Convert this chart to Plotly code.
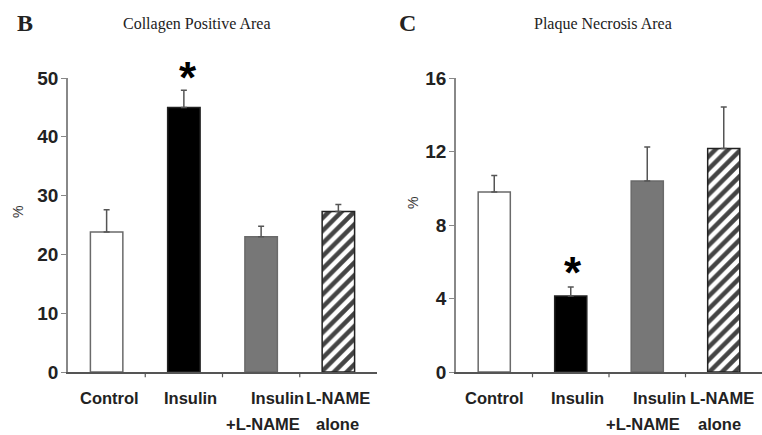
import plotly.graph_objects as go

categories = ["Control", "Insulin", "Insulin +L-NAME", "L-NAME alone"]
label_line1 = ["Control", "Insulin", "Insulin", "L-NAME"]
label_line2 = ["", "", "+L-NAME", "alone"]
collagen_mean = [23.8, 45.0, 23.0, 27.3]
collagen_err = [3.8, 2.9, 1.8, 1.2]
necrosis_mean = [9.8, 4.13, 10.4, 12.17]
necrosis_err = [0.9, 0.5, 1.85, 2.25]
collagen_ticks = [0, 10, 20, 30, 40, 50]
necrosis_ticks = [0, 4, 8, 12, 16]

fills = ["white", "black", "#777777", "white"]
lines = ["#6a6a6a", "#222222", "#6a6a6a", "#222222"]
patterns = ["", "", "", "/"]

fig = go.Figure()

def add_bars(means, errs, xa, ya):
    fig.add_trace(go.Bar(
        x=categories, y=means, xaxis=xa, yaxis=ya, width=0.42,
        marker=dict(color=fills, line=dict(color=lines, width=1.5),
                    pattern=dict(shape=patterns, fgcolor="black", bgcolor="white",
                                 fgopacity=1, size=9, solidity=0.5)),
        error_y=dict(type="data", symmetric=False, array=errs,
                     arrayminus=[0] * len(errs), color="#555555",
                     thickness=1.5, width=3),
        showlegend=False, hoverinfo="skip"))

add_bars(collagen_mean, collagen_err, "x", "y")
add_bars(necrosis_mean, necrosis_err, "x2", "y2")

ydom = [(435 - 372) / 435, (435 - 78) / 435]
sans = "Liberation Sans, Arial, sans-serif"
tickfont = dict(family=sans, size=19, color="#222222", weight="bold")

common_x = dict(type="category", showline=True, linecolor="#555555", linewidth=1.5,
                ticks="", showticklabels=False, showgrid=False, zeroline=False,
                range=[-0.5, 3.5], fixedrange=True, automargin=False)
common_y = dict(showline=True, linecolor="#888888", linewidth=1.5, ticks="outside",
                ticklen=5, tickcolor="#888888", tickfont=tickfont, showgrid=False,
                zeroline=False, domain=ydom, automargin=False, ticklabelstandoff=-1)

fig.update_layout(
    width=762, height=435, margin=dict(l=0, r=0, t=0, b=0, autoexpand=False),
    paper_bgcolor="white", plot_bgcolor="white",
    xaxis=dict(common_x, domain=[68 / 762, 377 / 762], anchor="y"),
    yaxis=dict(common_y, range=[0, 50], tickvals=collagen_ticks, anchor="x"),
    xaxis2=dict(common_x, domain=[456 / 762, 1.0], anchor="y2"),
    yaxis2=dict(common_y, range=[0, 16], tickvals=necrosis_ticks, anchor="x2"),
)

# category separator ticks and category labels
shifts1 = [[3, 7, 16, 0], [0, 7, 12, -2]]
shifts2 = [[0, 0, 2, -1], [0, 0, -4, -4]]
catfont = dict(family=sans, size=16.5, color="#222222")
for k, (xa, ya) in enumerate([("x", "y"), ("x2", "y2")]):
    for b in [0.5, 1.5, 2.5]:
        fig.add_shape(type="line", xref=xa, yref=f"{ya} domain", x0=b, x1=b,
                      y0=0, y1=-0.018, line=dict(color="#555555", width=1.2))
    for i, cat in enumerate(categories):
        fig.add_annotation(text=f"<b>{label_line1[i]}</b>", x=cat, xref=xa, y=1 - 398 / 435,
                           yref="paper", xshift=shifts1[k][i], showarrow=False,
                           xanchor="center", yanchor="middle", font=catfont)
        if label_line2[i]:
            fig.add_annotation(text=f"<b>{label_line2[i]}</b>", x=cat, xref=xa, y=1 - 424 / 435,
                               yref="paper", xshift=shifts2[k][i], showarrow=False,
                               xanchor="center", yanchor="middle", font=catfont)

serif = "Liberation Serif, Times New Roman, serif"
def paper_text(text, x, y, size, family=serif, angle=0, color="#222222"):
    fig.add_annotation(text=text, x=x / 762, y=1 - y / 435, xref="paper", yref="paper",
                       xanchor="center", yanchor="middle", showarrow=False, textangle=angle,
                       font=dict(family=family, size=size, color=color))

paper_text("<b>B</b>", 25, 23, 24)
paper_text("Collagen Positive Area", 197, 24, 16)
paper_text("<b>C</b>", 407, 23, 24)
paper_text("Plaque Necrosis Area", 603, 24, 16)
# y-axis titles
paper_text("%", 18, 212, 14, family=sans, angle=-90, color="#333333")
paper_text("%", 413, 203, 14, family=sans, angle=-90, color="#333333")

# significance asterisks
fig.add_annotation(text="<b>*</b>", x=categories[1], y=collagen_mean[1] + collagen_err[1],
                   xref="x", yref="y", xshift=4, yshift=13, showarrow=False,
                   font=dict(family="Liberation Sans", size=44, color="black"))
fig.add_annotation(text="<b>*</b>", x=categories[1], y=necrosis_mean[1] + necrosis_err[1],
                   xref="x2", yref="y2", xshift=2, yshift=14, showarrow=False,
                   font=dict(family="Liberation Sans", size=44, color="black"))

fig.write_html("out.html")
